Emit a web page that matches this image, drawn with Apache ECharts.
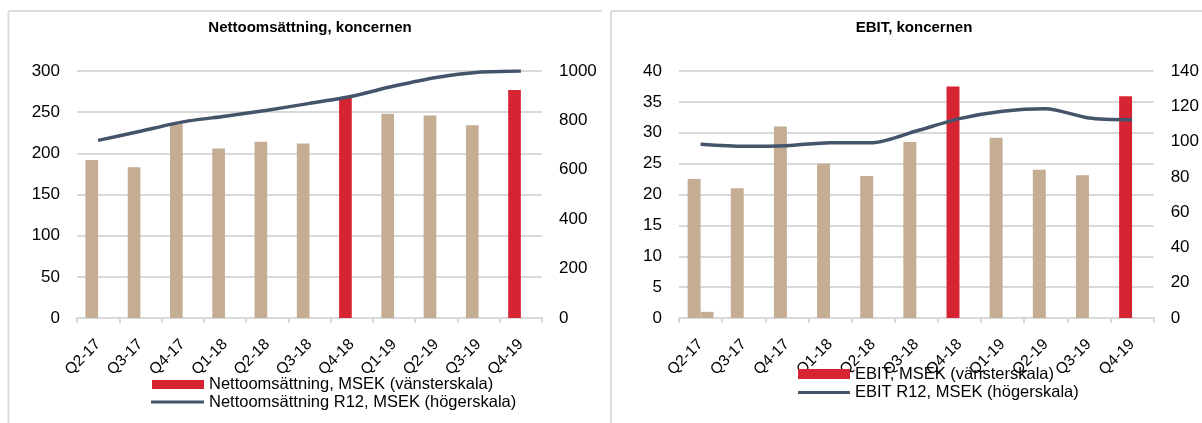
<!DOCTYPE html>
<html><head><meta charset="utf-8">
<script src="https://cdn.jsdelivr.net/npm/echarts@6/dist/echarts.min.js"></script>
<style>html,body{margin:0;padding:0;background:#fff}#c{width:1202px;height:423px}</style>
</head><body><div id="c"></div><script>
// ---- data ----
const categories = ['Q2-17','Q3-17','Q4-17','Q1-18','Q2-18','Q3-18','Q4-18','Q1-19','Q2-19','Q3-19','Q4-19'];
const highlighted = ['Q4-18','Q4-19'];
const netSales = [192, 183, 236, 206, 214, 212, 268, 248, 246, 234, 277];
const netSalesOther = [null, null, null, null, null, null, null, null, null, null, null];
const netSalesR12 = [719, 756, 794, 817, 841, 869, 898, 939, 974, 995, 1000];
const ebit = [22.5, 21, 31, 25, 23, 28.5, 37.5, 29.2, 24, 23.1, 35.9];
const ebitOther = [1, null, null, null, null, null, null, null, null, null, null];
const ebitR12 = [98.5, 97.3, 97.7, 99.4, 99.4, 106, 113, 117.2, 118.6, 113.4, 112.3];
const leftTicks1 = [0, 300, 50], rightTicks1 = [0, 1000, 200];
const leftTicks2 = [0, 40, 5], rightTicks2 = [0, 140, 20];
const titles = ['Nettoomsättning, koncernen', 'EBIT, koncernen'];
const names = {
  ns: 'Nettoomsättning, MSEK (vänsterskala)',
  nsR: 'Nettoomsättning R12, MSEK (högerskala)',
  eb: 'EBIT, MSEK (vänsterskala)',
  ebR: 'EBIT R12, MSEK (högerskala)'
};

// ---- style ----
const FONT = "'Liberation Sans', Arial, sans-serif";
const TAN = '#C4AD92', RED = '#D72433', NAVY = '#44546A', GRID = '#D9D9D9', BORDER = '#DCDCDC';

function barData(vals) {
  return vals.map((v, i) => ({ value: v, itemStyle: { color: highlighted.includes(categories[i]) ? RED : TAN } }));
}
function xAxis(gi) {
  return {
    type: 'category', gridIndex: gi, data: categories,
    axisLine: { lineStyle: { color: GRID, width: 2 } },
    axisTick: { show: true, length: 5, lineStyle: { color: GRID, width: 2 } },
    axisLabel: { interval: 0, rotate: 45, margin: 24, fontSize: 15.5, color: '#000', fontFamily: FONT, align: 'right', verticalAlign: 'middle' }
  };
}
function yAxis(gi, pos, t, split) {
  return {
    type: 'value', gridIndex: gi, position: pos, min: t[0], max: t[1], interval: t[2],
    axisLine: { show: false }, axisTick: { show: false },
    splitLine: { show: split, lineStyle: { color: GRID, width: 2 } },
    axisLabel: { fontSize: 17, color: '#000', fontFamily: FONT, margin: 17, formatter: v => String(v) }
  };
}
function legend(name, left, top, w, h) {
  return {
    data: [{ name: name, icon: 'rect' }], left: left, top: top, itemWidth: w, itemHeight: h,
    padding: 0, itemGap: 0, selectedMode: false,
    textStyle: { fontSize: 16.5, lineHeight: 17, color: '#000', fontFamily: FONT }
  };
}
const lineSeries = (name, xi, yi, data) => ({
  name: name, type: 'line', xAxisIndex: xi, yAxisIndex: yi, data: data,
  smooth: 0.25, symbol: 'none', showSymbol: false, z: 5,
  lineStyle: { color: NAVY, width: 3.5 }, itemStyle: { color: NAVY }
});
const barSeries = (name, xi, yi, data) => ({
  name: name, type: 'bar', xAxisIndex: xi, yAxisIndex: yi, data: barData(data),
  barWidth: '30%', barGap: '0%', itemStyle: { color: RED }
});

const chart = echarts.init(document.getElementById('c'), null, { renderer: 'canvas' });
chart.setOption({
  backgroundColor: '#fff',
  animation: false,
  textStyle: { fontFamily: FONT },
  grid: [
    { left: 77, top: 71, width: 465, height: 247 },
    { left: 679, top: 71, width: 475, height: 247 }
  ],
  xAxis: [xAxis(0), xAxis(1)],
  yAxis: [
    yAxis(0, 'left', leftTicks1, true), yAxis(0, 'right', rightTicks1, false),
    yAxis(1, 'left', leftTicks2, true), yAxis(1, 'right', rightTicks2, false)
  ],
  legend: [
    legend(names.ns, 152, 376, 52, 9),
    legend(names.nsR, 151, 393.5, 53, 3),
    legend(names.eb, 798, 365.5, 52, 10),
    legend(names.ebR, 798, 384, 52, 3)
  ],
  series: [
    barSeries(names.ns, 0, 0, netSales),
    barSeries('Nettoomsättning, övrigt', 0, 0, netSalesOther),
    lineSeries(names.nsR, 0, 1, netSalesR12),
    barSeries(names.eb, 1, 2, ebit),
    barSeries('EBIT, övrigt', 1, 2, ebitOther),
    lineSeries(names.ebR, 1, 3, ebitR12)
  ],
  graphic: [
    { type: 'line', shape: { x1: 8.5, y1: 11, x2: 602, y2: 11 }, style: { stroke: BORDER, lineWidth: 2 } },
    { type: 'line', shape: { x1: 8.5, y1: 11, x2: 8.5, y2: 423 }, style: { stroke: BORDER, lineWidth: 2 } },
    { type: 'line', shape: { x1: 611, y1: 11, x2: 1202, y2: 11 }, style: { stroke: BORDER, lineWidth: 2 } },
    { type: 'line', shape: { x1: 611, y1: 11, x2: 611, y2: 423 }, style: { stroke: BORDER, lineWidth: 2 } },
    { type: 'text', x: 310, y: 28, style: { text: titles[0], font: 'bold 15px ' + FONT, fill: '#000', align: 'center', verticalAlign: 'middle' } },
    { type: 'text', x: 914, y: 28, style: { text: titles[1], font: 'bold 15px ' + FONT, fill: '#000', align: 'center', verticalAlign: 'middle' } }
  ]
});
</script></body></html>
